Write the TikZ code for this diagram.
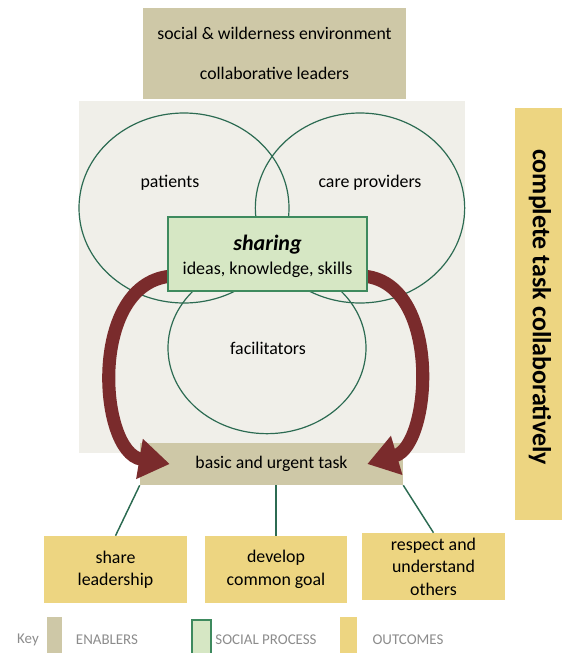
\documentclass[tikz,border=0pt]{standalone}
\usepackage{fontspec}
\setmainfont{Carlito}
\usetikzlibrary{shapes.geometric,arrows.meta,calc}
\definecolor{enabler}{HTML}{CEC8A7}
\definecolor{outcome}{HTML}{EDD581}
\definecolor{panel}{HTML}{F0EFE9}
\definecolor{sharefill}{HTML}{D6E7C4}
\definecolor{shareline}{HTML}{3E8A5E}
\definecolor{circline}{HTML}{2C6B52}
\definecolor{arrowred}{HTML}{7A2B2C}
\definecolor{keytext}{HTML}{8C8C8C}
\tikzset{
  enablerbox/.style={fill=enabler,draw=none,inner sep=0pt,align=center,font=\fontsize{13.3}{15}\selectfont},
  outcomebox/.style={fill=outcome,draw=none,inner sep=0pt,align=center,font=\fontsize{13.4}{16.8}\selectfont},
  circ/.style={ellipse,draw=circline,line width=0.9pt,inner sep=0pt},
  circlabel/.style={font=\fontsize{13.4}{15}\selectfont},
  connector/.style={draw=circline,line width=1.1pt},
  bigarrow/.style={draw=arrowred,line width=9.8pt,-{Triangle[length=23pt,width=29pt]}},
  keylabel/.style={text=keytext,font=\fontsize{11.2}{13}\selectfont},
}
\begin{document}
\begin{tikzpicture}[x=0.75pt,y=-0.75pt]
\useasboundingbox (0,0) rectangle (562,653);
% background panel
\fill[panel] (79,101) rectangle (465,453);
% top enablers
\node[enablerbox,minimum width=197.25pt,minimum height=68.25pt] (env) at (274.5,53)
  {social \& wilderness environment\\[15pt]collaborative leaders};
% right outcome bar
\node[fill=outcome,minimum width=35.25pt,minimum height=309pt,inner sep=0pt] (bar) at (538.5,314) {};
\node[rotate=-90,font=\bfseries\fontsize{19.5}{21}\selectfont] (complete) at (540,307) {complete task collaboratively};
% circles
\node[circ,minimum width=157.5pt,minimum height=142.5pt] (cpat) at (184,208) {};
\node[circ,minimum width=157pt,minimum height=142.5pt] (ccare) at (360,208) {};
\node[circ,minimum width=148.5pt,minimum height=128.5pt] (cfac) at (267,348) {};
\node[circlabel] (lpat) at (170,183) {patients};
\node[circlabel] (lcare) at (370,183) {care providers};
\node[circlabel] (lfac) at (268,348) {facilitators};
% task box
\node[enablerbox,minimum width=197.25pt,minimum height=31.5pt] (task) at (271.5,464) {basic and urgent task};
% sharing box
\node[fill=sharefill,draw=shareline,line width=1.1pt,minimum width=149.25pt,minimum height=55.5pt,inner sep=0pt] (share) at (267.5,254) {};
% arrows
\draw[bigarrow] ($(share.west)+(6,22)$) .. controls (88,280) and (98,452) .. ($(task.west)+(30,0)$);
\draw[bigarrow] ($(share.east)+(-6,22)$) .. controls (442,280) and (432,445) .. ($(task.east)+(-36,0)$);
% sharing box on top
\node[fill=sharefill,draw=shareline,line width=1.1pt,minimum width=149.25pt,minimum height=55.5pt,inner sep=0pt] (share2) at (267.5,254) {};
\node[font=\bfseries\itshape\fontsize{16.5}{18}\selectfont] (sharing) at (267.5,245) {sharing};
\node[font=\fontsize{13.5}{15}\selectfont] (ideas) at (267.5,270) {ideas, knowledge, skills};
% outcomes
\node[outcomebox,minimum width=107.25pt,minimum height=50.25pt] (lead) at (115.5,569.5) {share\\leadership};
\node[outcomebox,minimum width=106.5pt,minimum height=50.25pt] (goal) at (276,569.5) {develop\\common goal};
\node[outcomebox,minimum width=107.25pt,minimum height=50.25pt] (resp) at (433.5,566.5) {respect and\\understand\\others};
% connectors
\draw[connector] (task.south west) -- (lead.north);
\draw[connector] (goal.north |- task.south) -- (goal.north);
\draw[connector] (task.south east) -- (resp.north);
% key
\node[keylabel] (key) at (28,640) {Key};
\fill[enabler] (47,617) rectangle (62,653);
\node[keylabel] (kenab) at (107,640) {ENABLERS};
\filldraw[fill=sharefill,draw=shareline,line width=0.9pt] (192,620) rectangle (211,654);
\node[keylabel] (ksoc) at (266,640) {SOCIAL PROCESS};
\fill[outcome] (340,617) rectangle (357,653);
\node[keylabel] (kout) at (408,640) {OUTCOMES};
\end{tikzpicture}
\end{document}
